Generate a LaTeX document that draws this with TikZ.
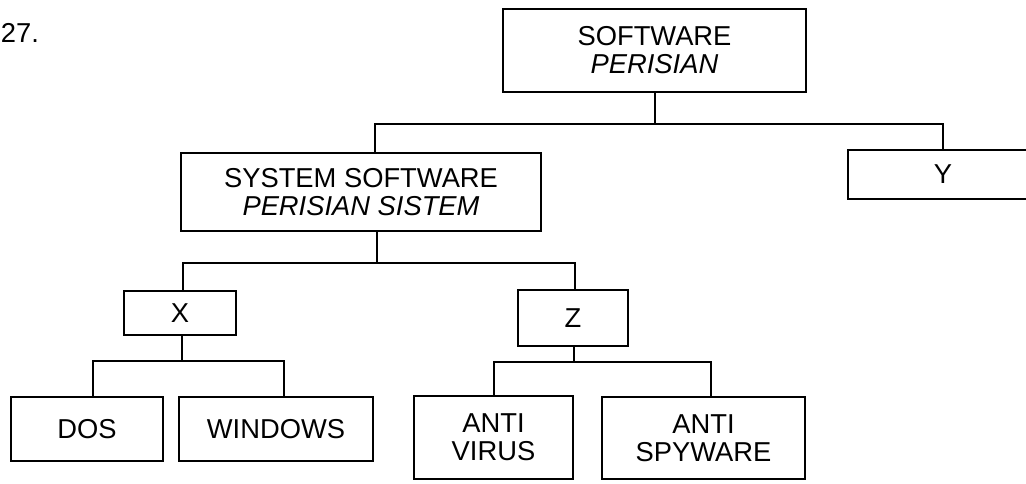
\documentclass[tikz,border=0pt]{standalone}
\usepackage{fontspec}
\setmainfont{Liberation Sans}

\begin{document}
\begin{tikzpicture}[x=0.75pt,y=-0.75pt,line width=1.5pt,
	txt/.style={font=\fontsize{20.5}{21}\selectfont},
	box/.style={txt,draw,rectangle,align=center,inner sep=0pt}]
	\useasboundingbox (0,0) rectangle (1026,483);
	\node[txt,anchor=base west,inner sep=0pt] (num) at (0,42) {27.};

	% boxes
	\node[box,minimum width=227.25pt,minimum height=62.25pt] (sw) at (654.5,50.5)
		{SOFTWARE\\\textit{PERISIAN}};
	\node[box,minimum width=270pt,minimum height=58.5pt] (sys) at (361,192)
		{SYSTEM SOFTWARE\\\textit{PERISIAN SISTEM}};
	\node[box,minimum width=142.5pt,minimum height=36.75pt] (y) at (943,174.5) {Y};
	\node[box,minimum width=84pt,minimum height=33pt] (x) at (180,313) {X};
	\node[box,minimum width=82.5pt,minimum height=42pt] (z) at (573,318) {Z};
	\node[box,minimum width=114pt,minimum height=48pt] (dos) at (87,429) {DOS};
	\node[box,minimum width=145.5pt,minimum height=48pt] (win) at (276,429) {WINDOWS};
	\node[box,minimum width=119.25pt,minimum height=62.25pt] (av) at (493.5,437.5)
		{ANTI\\VIRUS};
	\node[box,minimum width=152.25pt,minimum height=61.5pt] (asp) at (703.5,438)
		{ANTI\\SPYWARE};

	% bus lines
	\coordinate (b1l) at (375,124);
	\coordinate (b1r) at (943,124);
	\draw (sw.south) -- (sw.south |- b1l);
	\draw (b1l |- sys.north) -- (b1l) -- (b1r) -- (b1r |- y.north);

	\coordinate (b2m) at (377,263);
	\coordinate (b2l) at (183,263);
	\coordinate (b2r) at (575,263);
	\draw (b2m |- sys.south) -- (b2m);
	\draw (b2l |- x.north) -- (b2l) -- (b2r) -- (b2r |- z.north);

	\coordinate (b3m) at (182,361);
	\coordinate (b3l) at (93,361);
	\coordinate (b3r) at (284,361);
	\draw (b3m |- x.south) -- (b3m);
	\draw (b3l |- dos.north) -- (b3l) -- (b3r) -- (b3r |- win.north);

	\coordinate (b4m) at (574,362);
	\coordinate (b4l) at (494,362);
	\coordinate (b4r) at (711,362);
	\draw (b4m |- z.south) -- (b4m);
	\draw (b4l |- av.north) -- (b4l) -- (b4r) -- (b4r |- asp.north);
\end{tikzpicture}
\end{document}
